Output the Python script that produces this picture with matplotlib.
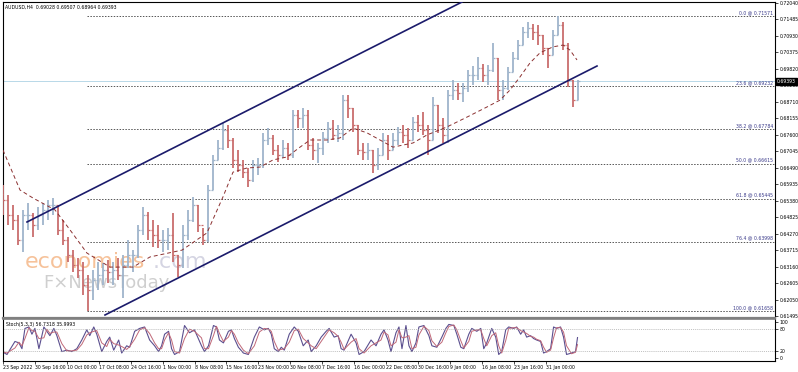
import matplotlib
matplotlib.use("Agg")
import matplotlib.pyplot as plt
import numpy as np
import pandas as pd

header = "AUDUSD,H4  0.69028 0.69507 0.68964 0.69393"
last_price = 0.69393

# H4 bars in groups of 5 bars
highs = [0.6591, 0.6557, 0.6524, 0.6490, 0.6507, 0.6530, 0.6497, 0.6517, 0.6530, 0.6540,
         0.6547, 0.6524, 0.6473, 0.6416, 0.6372, 0.6346, 0.6332, 0.6288, 0.6305, 0.6332,
         0.6329, 0.6339, 0.6332, 0.6346, 0.6356, 0.6406, 0.6372, 0.6457, 0.6517, 0.6500,
         0.6473, 0.6457, 0.6440, 0.6446, 0.6497, 0.6356, 0.6457, 0.6507, 0.6551, 0.6524,
         0.6446, 0.6591, 0.6692, 0.6742, 0.6799, 0.6792, 0.6749, 0.6708, 0.6675, 0.6648,
         0.6675, 0.6681, 0.6766, 0.6782, 0.6759, 0.6725, 0.6742, 0.6732, 0.6843, 0.6843,
         0.6850, 0.6843, 0.6749, 0.6732, 0.6769, 0.6802, 0.6809, 0.6792, 0.6893, 0.6893,
         0.6850, 0.6792, 0.6732, 0.6732, 0.6708, 0.6715, 0.6766, 0.6759, 0.6766, 0.6786,
         0.6792, 0.6782, 0.6819, 0.6826, 0.6836, 0.6792, 0.6886, 0.6860, 0.6816, 0.6910,
         0.6944, 0.6933, 0.6933, 0.6977, 0.6991, 0.7021, 0.6997, 0.6994, 0.7068, 0.7018,
         0.6944, 0.6987, 0.7038, 0.7078, 0.7122, 0.7138, 0.7132, 0.7128, 0.7095, 0.7051,
         0.7112, 0.7159, 0.7138, 0.7068, 0.6944, 0.6944]
lows = [0.6490, 0.6457, 0.6440, 0.6389, 0.6366, 0.6440, 0.6416, 0.6440, 0.6457, 0.6473,
        0.6490, 0.6423, 0.6389, 0.6332, 0.6298, 0.6278, 0.6221, 0.6167, 0.6204, 0.6238,
        0.6255, 0.6262, 0.6255, 0.6272, 0.6211, 0.6312, 0.6298, 0.6346, 0.6423, 0.6406,
        0.6382, 0.6379, 0.6366, 0.6372, 0.6332, 0.6282, 0.6312, 0.6406, 0.6467, 0.6433,
        0.6389, 0.6399, 0.6574, 0.6675, 0.6708, 0.6715, 0.6648, 0.6634, 0.6614, 0.6584,
        0.6601, 0.6624, 0.6648, 0.6725, 0.6692, 0.6668, 0.6681, 0.6675, 0.6681, 0.6782,
        0.6782, 0.6708, 0.6675, 0.6665, 0.6692, 0.6732, 0.6742, 0.6735, 0.6742, 0.6816,
        0.6769, 0.6692, 0.6675, 0.6675, 0.6631, 0.6641, 0.6692, 0.6675, 0.6708, 0.6725,
        0.6732, 0.6715, 0.6742, 0.6769, 0.6759, 0.6692, 0.6742, 0.6766, 0.6732, 0.6732,
        0.6876, 0.6876, 0.6870, 0.6903, 0.6927, 0.6944, 0.6937, 0.6927, 0.6970, 0.6876,
        0.6876, 0.6910, 0.6970, 0.7011, 0.7061, 0.7085, 0.7078, 0.7061, 0.7028, 0.6984,
        0.7028, 0.7095, 0.7044, 0.6920, 0.6853, 0.6876]
closes = [0.6540, 0.6490, 0.6473, 0.6406, 0.6490, 0.6490, 0.6457, 0.6490, 0.6507, 0.6524,
          0.6524, 0.6440, 0.6406, 0.6356, 0.6322, 0.6305, 0.6255, 0.6238, 0.6272, 0.6288,
          0.6305, 0.6298, 0.6305, 0.6288, 0.6322, 0.6356, 0.6356, 0.6440, 0.6490, 0.6440,
          0.6423, 0.6406, 0.6406, 0.6423, 0.6356, 0.6322, 0.6423, 0.6473, 0.6524, 0.6457,
          0.6406, 0.6574, 0.6675, 0.6715, 0.6776, 0.6742, 0.6675, 0.6658, 0.6634, 0.6608,
          0.6658, 0.6658, 0.6742, 0.6749, 0.6708, 0.6692, 0.6715, 0.6692, 0.6826, 0.6816,
          0.6826, 0.6725, 0.6708, 0.6715, 0.6749, 0.6782, 0.6759, 0.6766, 0.6876, 0.6850,
          0.6792, 0.6708, 0.6702, 0.6708, 0.6658, 0.6692, 0.6742, 0.6708, 0.6742, 0.6769,
          0.6759, 0.6742, 0.6802, 0.6792, 0.6776, 0.6742, 0.6860, 0.6792, 0.6759, 0.6893,
          0.6910, 0.6900, 0.6917, 0.6960, 0.6960, 0.6984, 0.6960, 0.6977, 0.7018, 0.6910,
          0.6917, 0.6970, 0.7018, 0.7061, 0.7105, 0.7118, 0.7105, 0.7095, 0.7051, 0.7028,
          0.7095, 0.7128, 0.7061, 0.6944, 0.6876, 0.6939]
first_open = 0.6560
bars_per_group = 5

# dashed moving average (bar position, price)
ma_pos = [0, 17, 30, 52, 67, 84, 107, 130, 147, 179, 204, 220, 230, 244, 257, 270, 284,
          297, 307, 324, 337, 350, 364, 377, 390, 410, 424, 444, 464, 484, 497, 507, 517,
          527, 537, 550, 560, 567, 574]
ma_val = [0.6708, 0.6574, 0.6547, 0.6507, 0.6440, 0.6362, 0.6315, 0.6315, 0.6349, 0.6372,
          0.6430, 0.6551, 0.6634, 0.6648, 0.6651, 0.6675, 0.6685, 0.6718, 0.6742, 0.6742,
          0.6749, 0.6782, 0.6766, 0.6742, 0.6718, 0.6732, 0.6759, 0.6786, 0.6819, 0.6853,
          0.6876, 0.6910, 0.6954, 0.7001, 0.7035, 0.7055, 0.7061, 0.7044, 0.7011]

# Stochastic(5,3,3) main line (bar position, value)
stoch_pos = [-3, 2, 10, 14, 17, 20, 24, 27, 30, 34, 39, 42, 45, 49, 52, 57, 62, 67, 72, 77,
             82, 85, 89, 92, 97, 102, 105, 109, 114, 117, 122, 125, 130, 135, 140, 145, 150,
             154, 157, 160, 164, 167, 170, 175, 180, 185, 190, 197, 200, 204, 209, 212, 215,
             219, 224, 227, 230, 234, 239, 244, 250, 255, 260, 264, 267, 270, 274, 277, 280,
             285, 290, 294, 299, 304, 307, 312, 317, 322, 325, 330, 334, 337, 340, 347, 352,
             355, 360, 367, 372, 377, 380, 384, 387, 392, 395, 398, 402, 405, 408, 412, 415,
             420, 425, 428, 433, 438, 442, 445, 450, 453, 457, 460, 465, 468, 473, 477, 480,
             483, 488, 492, 495, 498, 502, 505, 510, 513, 517, 520, 523, 527, 530, 533, 537,
             540, 543, 547, 550, 553, 557, 560, 563, 568, 572, 574]
stoch_k = [18, 10, 46, 42, 26, 82, 86, 66, 82, 26, 86, 74, 62, 82, 62, 18, 22, 18, 26, 50,
           78, 62, 86, 66, 18, 46, 58, 22, 50, 14, 34, 30, 74, 82, 86, 50, 34, 18, 34, 66,
           74, 26, 10, 18, 90, 70, 78, 34, 18, 34, 90, 86, 50, 42, 74, 78, 54, 30, 14, 10,
           58, 86, 78, 82, 66, 26, 18, 30, 22, 66, 86, 74, 34, 50, 18, 34, 58, 74, 82, 58,
           62, 26, 22, 66, 42, 10, 18, 50, 34, 66, 78, 50, 18, 70, 86, 26, 90, 34, 18, 42,
           86, 90, 62, 34, 30, 58, 82, 93, 90, 66, 30, 26, 66, 82, 74, 82, 26, 42, 82, 58,
           10, 18, 78, 86, 82, 86, 66, 78, 58, 62, 54, 50, 46, 14, 18, 26, 86, 82, 86, 58,
           10, 14, 18, 56.7]
stoch_text = "Stoch(5,3,3) 56.7318 35.9993"

# channel lines (bar position, price)
upper_channel = ([24, 459], [0.64665, 0.72057])
lower_channel = ([102, 594], [0.61540, 0.69906])

fib_names = ["0.0", "23.6", "38.2", "50.0", "61.8", "76.4", "100.0"]
fib_prices = [0.71571, 0.69232, 0.67784, 0.66615, 0.65445, 0.63998, 0.61658]
fib_start = 84

price_ticks = [0.72040, 0.71485, 0.70930, 0.70375, 0.69820, 0.69265, 0.68710, 0.68155,
               0.67600, 0.67045, 0.66490, 0.65935, 0.65380, 0.64825, 0.64270, 0.63715,
               0.63160, 0.62605, 0.62050, 0.61495]
date_labels = ["23 Sep 2022", "30 Sep 16:00", "10 Oct 00:00", "17 Oct 08:00", "24 Oct 16:00",
               "1 Nov 00:00", "8 Nov 08:00", "15 Nov 16:00", "23 Nov 00:00", "30 Nov 08:00",
               "7 Dec 16:00", "16 Dec 00:00", "22 Dec 08:00", "30 Dec 16:00", "9 Jan 00:00",
               "16 Jan 08:00", "23 Jan 16:00", "31 Jan 00:00"]
bars_per_label = 32

W, H = 798, 372
def rect(x0, y0, x1, y1):
    return [x0 / W, 1 - y1 / H, (x1 - x0) / W, (y1 - y0) / H]

fig = plt.figure(figsize=(W / 100, H / 100), dpi=100)
ax = fig.add_axes(rect(3, 2, 775, 318))
ax2 = fig.add_axes(rect(3, 319, 775, 361))
FS = 3.3

# ---- price panel (OHLC bars: high-low stroke, open tick left, close tick right)
x = np.arange(len(closes)) * bars_per_group
hi = np.array(highs); lo = np.array(lows); cl = np.array(closes)
op = np.concatenate([[first_open], cl[:-1]])
up = cl >= op
for mask, col in ((up, '#9fb4cb'), (~up, '#c96d6d')):
    ax.vlines(x[mask], lo[mask], hi[mask], color=col, lw=1.3, zorder=3)
    ax.hlines(op[mask], x[mask] - 2, x[mask], color=col, lw=0.9, zorder=3)
    ax.hlines(cl[mask], x[mask], x[mask] + 2, color=col, lw=0.9, zorder=3)
ax.plot(ma_pos, ma_val, color='#8b3030', lw=0.7, ls=(0, (4, 3)), zorder=4)

ax.plot(*upper_channel, color='#1b1b6b', lw=1.2, zorder=5)
ax.plot(*lower_channel, color='#1b1b6b', lw=1.2, zorder=5)

for name, p in zip(fib_names, fib_prices):
    ax.plot([fib_start, 772], [p, p], color='#555555', lw=0.7, ls=(0, (1.5, 1.5)), zorder=2)
    ax.text(770, p + 0.0004, f"{name} @ {p:.5f}", fontsize=FS, color='#3a3a8a',
            ha='right', va='bottom', zorder=6)

ax.axhline(last_price, color='#b8d8e8', lw=0.7, zorder=1)

ax.text(22, 0.6312, "economies", fontsize=16, color='#f6c29a', zorder=1)
ax.text(150, 0.6312, ".com", fontsize=16, color='#d4d4e2', zorder=1)
ax.text(40, 0.6245, "F\u00d7NewsToday", fontsize=13, color='#cfcfcf', zorder=1)

ax.text(2, 0.7188, header, fontsize=FS, color='black', va='center')

ax.set_xlim(0, 772)
ax.set_ylim(0.61439, 0.72057)
ax.yaxis.tick_right()
ax.set_yticks(price_ticks)
ax.set_yticklabels([f"{t:.5f}" for t in price_ticks])
ax.tick_params(axis='y', labelsize=FS, length=2, width=0.5, pad=1.5, colors='black')
ax.set_xticks([])
ax.text(1.0025, last_price, f"{last_price:.5f}", transform=ax.get_yaxis_transform(),
        fontsize=FS, color='white', va='center', ha='left', zorder=10,
        bbox=dict(facecolor='black', edgecolor='black', pad=0.6))
for s in ['left', 'right', 'top']:
    ax.spines[s].set_color('black'); ax.spines[s].set_linewidth(0.8)
ax.spines['bottom'].set_color('#808080'); ax.spines['bottom'].set_linewidth(1.6)

# ---- stochastic panel
k = pd.Series(stoch_k, dtype=float)
d = k.rolling(2, min_periods=1).mean()
ax2.plot(stoch_pos, k, color='#5b4f8f', lw=0.8)
ax2.plot(stoch_pos, d, color='#c06878', lw=0.7)
for lvl in (20, 80):
    ax2.axhline(lvl, color='#a8a8a8', lw=0.5, ls=(0, (1.5, 1.5)))
ax2.text(1, 101, stoch_text, fontsize=FS, color='black', va='top')
ax2.set_xlim(0, 772)
ax2.set_ylim(-8, 108)
ax2.yaxis.tick_right()
ax2.set_yticks([0, 20, 80, 100])
ax2.set_yticklabels(["0", "20", "80", "100"])
ax2.tick_params(axis='y', labelsize=FS, length=2, width=0.5, pad=1.5)
ticks = np.arange(len(date_labels)) * bars_per_label - 2
ax2.set_xticks(ticks)
ax2.set_xticklabels(date_labels, ha='left')
ax2.tick_params(axis='x', labelsize=FS, length=2, width=0.5, pad=1)
for s in ['left', 'right', 'bottom']:
    ax2.spines[s].set_color('black'); ax2.spines[s].set_linewidth(0.8)
ax2.spines['top'].set_color('#808080'); ax2.spines['top'].set_linewidth(1.2)

fig.savefig("out.png", dpi=100)
